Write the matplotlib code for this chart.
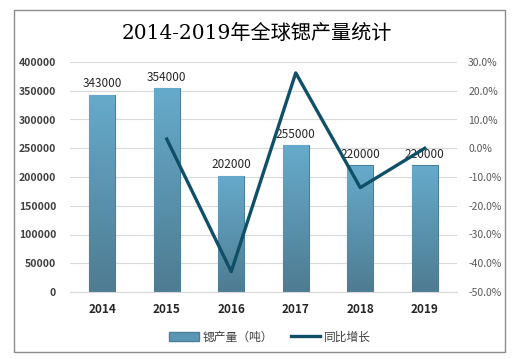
import matplotlib
matplotlib.use("Agg")
import matplotlib.pyplot as plt
import numpy as np
from matplotlib.patches import Rectangle
from matplotlib.lines import Line2D
from matplotlib.patches import Patch
from matplotlib.colors import LinearSegmentedColormap

plt.rcParams['font.family'] = ['Noto Sans CJK SC', 'DejaVu Sans']

years = ["2014", "2015", "2016", "2017", "2018", "2019"]
production = [343000, 354000, 202000, 255000, 220000, 220000]
growth_years = ["2015", "2016", "2017", "2018", "2019"]
growth = [3.2, -42.9, 26.2, -13.7, 0.0]
left_ticks = [0, 50000, 100000, 150000, 200000, 250000, 300000, 350000, 400000]
right_ticks = [-50, -40, -30, -20, -10, 0, 10, 20, 30]

W, H = 528, 359
fig = plt.figure(figsize=(W/100, H/100), dpi=100)
fig.patches.append(Rectangle((14/W, 1-352/H), (505-14)/W, (352-10)/H, transform=fig.transFigure,
                             fill=False, edgecolor='#8c8c8c', lw=1.0))

ax = fig.add_axes([70/W, 1-292/H, (457-70)/W, (292-62)/H])
x = np.arange(len(years))
bw = 0.4
grad = np.linspace(0, 1, 100).reshape(-1, 1)
cmap = LinearSegmentedColormap.from_list('g', ['#4e7c92', '#66aacb'])
for xi, v in zip(x, production):
    r = Rectangle((xi-bw/2, 0), bw, v, facecolor='#5b97b5', edgecolor='#4a7f99', lw=0.8, zorder=2)
    ax.add_patch(r)
    im = ax.imshow(grad, extent=[xi-bw/2, xi+bw/2, 0, v], origin='lower', cmap=cmap,
                   aspect='auto', zorder=2)
    im.set_clip_path(r)
    ax.text(xi, v + 8000, f"{v}", ha='center', va='bottom', fontsize=8.5, color='#262626', zorder=4)

ax.set_xlim(-0.5, len(years)-0.5)
ax.set_ylim(0, 400000)
ax.set_yticks(left_ticks)
ax.set_yticklabels([str(t) for t in left_ticks], fontsize=7.5, color='#404040', fontweight='bold')
ax.set_xticks(x)
ax.set_xticklabels(years, fontsize=8.5, fontweight='bold', color='#262626')
ax.tick_params(axis='both', length=0, pad=8)
ax.tick_params(axis='y', pad=10)
ax.grid(axis='y', color='#d9d9d9', lw=0.8, zorder=0)
ax.set_axisbelow(True)
for s in ax.spines.values():
    s.set_visible(False)
ax.spines['bottom'].set_visible(True)
ax.spines['bottom'].set_color('#d9d9d9')

ax2 = ax.twinx()
gx = [years.index(y) for y in growth_years]
ax2.plot(gx, growth, color='#0f5068', lw=2.4, zorder=5)
ax2.set_ylim(-50, 30)
ax2.set_yticks(right_ticks)
ax2.set_yticklabels([f"{t:.1f}%" for t in right_ticks], fontsize=7.5, color='#595959')
ax2.tick_params(axis='y', length=0, pad=8)
for s in ax2.spines.values():
    s.set_visible(False)

fig.text(257/W, 1-33/H, "2014-2019年全球锶产量统计", ha='center', va='center', fontsize=14.5,
         fontweight='medium', color='#000000', family=['DejaVu Serif', 'Noto Sans CJK SC'])

handles = [Patch(facecolor='#5b97b5', edgecolor='#4a7f99'),
           Line2D([0], [0], color='#0f5068', lw=2.4)]
fig.legend(handles, ['锶产量（吨）', '同比增长'], loc='center', bbox_to_anchor=(270/W, 1-337/H),
           ncol=2, frameon=False, fontsize=8.5, handlelength=2.5, columnspacing=1.5,
           labelcolor='#404040', handletextpad=0.3)

fig.savefig('out.png', dpi=100)
